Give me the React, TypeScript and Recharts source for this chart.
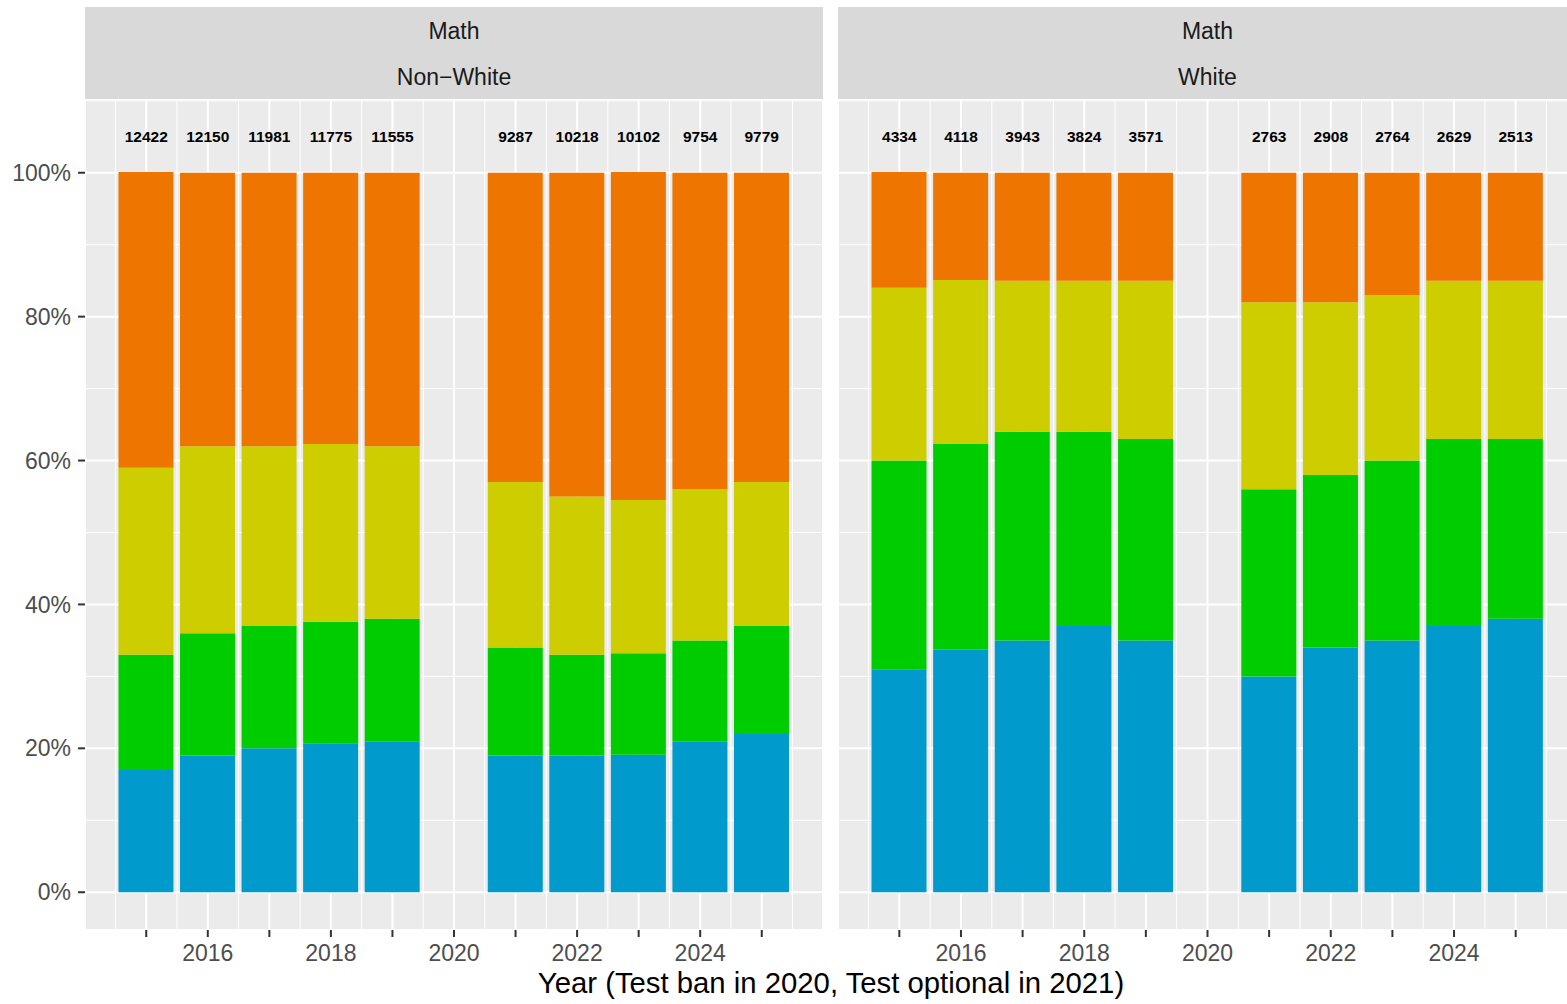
import React from 'react'
import { ComposedChart, Bar, XAxis, YAxis, CartesianGrid, ReferenceDot } from 'recharts'

// Share of students in each level (%), stacked bottom -> top: blue, green, yellow, orange
const YEARS = [2015, 2016, 2017, 2018, 2019, 2021, 2022, 2023, 2024, 2025]

const NW_BLUE   = [17, 19, 20, 20.7, 21, 19, 19, 19.1, 21, 22]
const NW_GREEN  = [16, 17, 17, 16.9, 17, 15, 14, 14.1, 14, 15]
const NW_YELLOW = [26, 26, 25, 24.7, 24, 23, 22, 21.3, 21, 20]
const NW_ORANGE = [41.1, 38, 38, 37.7, 38, 43, 45, 45.6, 44, 43]
const NW_N      = [12422, 12150, 11981, 11775, 11555, 9287, 10218, 10102, 9754, 9779]

const W_BLUE   = [31, 33.7, 35, 37, 35, 30, 34, 35, 37, 38]
const W_GREEN  = [29, 28.6, 29, 27, 28, 26, 24, 25, 26, 25]
const W_YELLOW = [24, 22.8, 21, 21, 22, 26, 24, 23, 22, 22]
const W_ORANGE = [16.1, 14.9, 15, 15, 15, 18, 18, 17, 15, 15]
const W_N      = [4334, 4118, 3943, 3824, 3571, 2763, 2908, 2764, 2629, 2513]

const X_TICKS = [2015, 2016, 2017, 2018, 2019, 2020, 2021, 2022, 2023, 2024, 2025]
const X_MINOR = [2014.5, 2015.5, 2016.5, 2017.5, 2018.5, 2019.5, 2020.5, 2021.5, 2022.5, 2023.5, 2024.5, 2025.5]
const Y_TICKS = [0, 20, 40, 60, 80, 100]
const Y_MINOR = [10, 30, 50, 70, 90, 110]

// ggplot-style 5% expansion around the bars / labels
const X_DOMAIN: [number, number] = [2014.005, 2025.995]
const Y_DOMAIN: [number, number] = [-5.25, 110.25]
const LABEL_Y = 105

const BLUE = '#009ACD'
const GREEN = '#00CD00'
const YELLOW = '#CDCD00'
const ORANGE = '#EE7600'
const FONT = '"Liberation Sans", Arial, Helvetica, sans-serif'

const buildRows = (blue: number[], green: number[], yellow: number[], orange: number[], n: number[]) =>
  YEARS.map((year, i) => ({ year, blue: blue[i], green: green[i], yellow: yellow[i], orange: orange[i], n: n[i] }))

const nonWhite = buildRows(NW_BLUE, NW_GREEN, NW_YELLOW, NW_ORANGE, NW_N)
const white = buildRows(W_BLUE, W_GREEN, W_YELLOW, W_ORANGE, W_N)

function Panel({ rows, showY, width }: { rows: any[]; showY: boolean; width: number }) {
  return (
    <ComposedChart width={width} height={905} data={rows} margin={{ top: 0, right: 0, bottom: 0, left: 0 }}>
      <XAxis xAxisId="minor" dataKey="year" type="number" domain={X_DOMAIN} ticks={X_MINOR} hide allowDataOverflow />
      <YAxis yAxisId="minor" type="number" domain={Y_DOMAIN} ticks={Y_MINOR} hide allowDataOverflow />
      <XAxis
        xAxisId="main"
        dataKey="year"
        type="number"
        domain={X_DOMAIN}
        ticks={X_TICKS}
        interval={0}
        allowDataOverflow
        height={74}
        axisLine={false}
        tickLine={{ stroke: '#333333', strokeWidth: 2 }}
        tickSize={7}
        tickMargin={8}
        tick={{ fill: '#4D4D4D', fontSize: 23 }}
        tickFormatter={(v: number) => (v % 2 === 0 ? String(v) : '')}
      />
      <YAxis
        yAxisId="main"
        type="number"
        domain={Y_DOMAIN}
        ticks={Y_TICKS}
        interval={0}
        allowDataOverflow
        hide={!showY}
        width={85}
        axisLine={false}
        tickLine={{ stroke: '#333333', strokeWidth: 2 }}
        tickSize={7}
        tickMargin={7}
        tick={{ fill: '#4D4D4D', fontSize: 23 }}
        tickFormatter={(v: number) => `${v}%`}
      />
      <CartesianGrid xAxisId="minor" yAxisId="minor" fill="#EBEBEB" stroke="#FFFFFF" strokeWidth={1} />
      <CartesianGrid xAxisId="main" yAxisId="main" stroke="#FFFFFF" strokeWidth={2} />
      <Bar xAxisId="main" yAxisId="main" dataKey="blue" stackId="a" fill={BLUE} barSize={55} isAnimationActive={false} />
      <Bar xAxisId="main" yAxisId="main" dataKey="green" stackId="a" fill={GREEN} barSize={55} isAnimationActive={false} />
      <Bar xAxisId="main" yAxisId="main" dataKey="yellow" stackId="a" fill={YELLOW} barSize={55} isAnimationActive={false} />
      <Bar xAxisId="main" yAxisId="main" dataKey="orange" stackId="a" fill={ORANGE} barSize={55} isAnimationActive={false} />
      {rows.map(r => (
        <ReferenceDot
          key={r.year}
          xAxisId="main"
          yAxisId="main"
          x={r.year}
          y={LABEL_Y}
          r={0}
          fill="none"
          stroke="none"
          label={{ value: r.n, position: 'center', fill: '#000000', fontSize: 15.5, fontWeight: 'bold' }}
        />
      ))}
    </ComposedChart>
  )
}

export default function App() {
  return (
    <div style={{ position: 'absolute', left: 0, top: 0, width: 1567, height: 1004, overflow: 'hidden', background: '#FFFFFF', fontFamily: FONT }}>
      <svg width={1567} height={1004} style={{ position: 'absolute', left: 0, top: 0 }}>
        <rect x={85} y={7} width={738} height={92} fill="#D9D9D9" />
        <rect x={838} y={7} width={739} height={92} fill="#D9D9D9" />
        <text x={454} y={39} textAnchor="middle" fontSize={23} fill="#1A1A1A">Math</text>
        <text x={454} y={85} textAnchor="middle" fontSize={23} fill="#1A1A1A">Non−White</text>
        <text x={1207.5} y={39} textAnchor="middle" fontSize={23} fill="#1A1A1A">Math</text>
        <text x={1207.5} y={85} textAnchor="middle" fontSize={23} fill="#1A1A1A">White</text>
        <text x={831} y={993} textAnchor="middle" fontSize={29.3} fill="#000000">Year (Test ban in 2020, Test optional in 2021)</text>
      </svg>
      <div style={{ position: 'absolute', left: 0, top: 99 }}>
        <Panel rows={nonWhite} showY width={823} />
      </div>
      <div style={{ position: 'absolute', left: 838, top: 99 }}>
        <Panel rows={white} showY={false} width={739} />
      </div>
    </div>
  )
}
